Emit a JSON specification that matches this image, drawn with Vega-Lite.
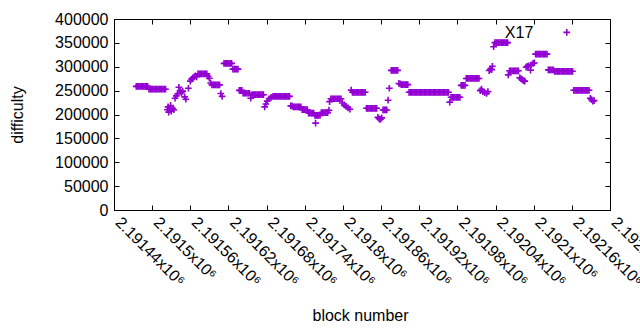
{
"$schema": "https://vega.github.io/schema/vega-lite/v6.json",
"width": 496, "height": 191,
"autosize": {"type": "none"},
"padding": {"left": 114, "top": 19, "right": 30, "bottom": 120},
"config": {
  "font": "Liberation Sans",
  "view": {"stroke": "black", "strokeWidth": 1},
  "axis": {"domain": false, "grid": false, "tickColor": "black", "tickSize": -5, "tickWidth": 1,
    "labelFont": "Liberation Sans", "labelFontSize": 16, "labelColor": "black",
    "titleFont": "Liberation Sans", "titleFontSize": 16, "titleFontWeight": "normal", "titleColor": "black"}
},
"data": {"values": [
{"block":2191475,"difficulty":259000},{"block":2191477,"difficulty":259000},{"block":2191479,"difficulty":259000},{"block":2191481,"difficulty":259000},{"block":2191483,"difficulty":259000},{"block":2191485,"difficulty":259000},{"block":2191487,"difficulty":259000},{"block":2191489,"difficulty":259000},{"block":2191491,"difficulty":259000},{"block":2191493,"difficulty":259000},
{"block":2191495,"difficulty":253000},{"block":2191497,"difficulty":253000},{"block":2191499,"difficulty":253000},{"block":2191501,"difficulty":253000},{"block":2191503,"difficulty":253000},{"block":2191505,"difficulty":253000},{"block":2191507,"difficulty":253000},{"block":2191509,"difficulty":253000},{"block":2191511,"difficulty":253000},{"block":2191513,"difficulty":253000},{"block":2191515,"difficulty":253000},{"block":2191517,"difficulty":253000},{"block":2191519,"difficulty":253000},{"block":2191521,"difficulty":253000},
{"block":2191524,"difficulty":210000},{"block":2191525,"difficulty":216000},{"block":2191526,"difficulty":205000},{"block":2191528,"difficulty":212000},{"block":2191529,"difficulty":219000},{"block":2191530,"difficulty":207000},{"block":2191532,"difficulty":213000},{"block":2191534,"difficulty":210000},
{"block":2191536,"difficulty":234000},{"block":2191538,"difficulty":239000},{"block":2191540,"difficulty":243000},{"block":2191542,"difficulty":257000},
{"block":2191544,"difficulty":250000},{"block":2191546,"difficulty":246000},{"block":2191548,"difficulty":249000},{"block":2191551,"difficulty":237000},{"block":2191553,"difficulty":232000},{"block":2191557,"difficulty":255000},
{"block":2191560,"difficulty":270000},{"block":2191562,"difficulty":274000},{"block":2191564,"difficulty":277000},{"block":2191566,"difficulty":279000},{"block":2191568,"difficulty":281000},{"block":2191570,"difficulty":279000},
{"block":2191572,"difficulty":285000},{"block":2191574,"difficulty":285000},{"block":2191576,"difficulty":285000},{"block":2191578,"difficulty":285000},{"block":2191580,"difficulty":285000},{"block":2191582,"difficulty":285000},{"block":2191584,"difficulty":285000},{"block":2191586,"difficulty":285000},{"block":2191588,"difficulty":280000},{"block":2191590,"difficulty":276000},
{"block":2191592,"difficulty":266000},
{"block":2191594,"difficulty":262000},{"block":2191596,"difficulty":262000},{"block":2191598,"difficulty":262000},{"block":2191600,"difficulty":262000},{"block":2191602,"difficulty":262000},{"block":2191604,"difficulty":262000},{"block":2191606,"difficulty":262000},
{"block":2191608,"difficulty":244000},{"block":2191610,"difficulty":238000},
{"block":2191613,"difficulty":307000},{"block":2191615,"difficulty":307000},{"block":2191617,"difficulty":307000},{"block":2191619,"difficulty":307000},{"block":2191621,"difficulty":307000},{"block":2191623,"difficulty":307000},{"block":2191625,"difficulty":307000},
{"block":2191627,"difficulty":295000},{"block":2191629,"difficulty":295000},{"block":2191631,"difficulty":295000},{"block":2191633,"difficulty":295000},{"block":2191635,"difficulty":295000},
{"block":2191637,"difficulty":250500},{"block":2191639,"difficulty":250500},{"block":2191641,"difficulty":250500},
{"block":2191643,"difficulty":244500},{"block":2191645,"difficulty":244500},{"block":2191647,"difficulty":244500},{"block":2191649,"difficulty":244500},{"block":2191651,"difficulty":244500},{"block":2191653,"difficulty":244500},
{"block":2191655,"difficulty":234000},
{"block":2191657,"difficulty":241500},{"block":2191659,"difficulty":241500},{"block":2191661,"difficulty":241500},{"block":2191663,"difficulty":241500},{"block":2191665,"difficulty":241500},{"block":2191667,"difficulty":241500},{"block":2191669,"difficulty":241500},{"block":2191671,"difficulty":241500},{"block":2191673,"difficulty":241500},{"block":2191675,"difficulty":241500},
{"block":2191677,"difficulty":216000},{"block":2191679,"difficulty":222000},{"block":2191681,"difficulty":228000},{"block":2191684,"difficulty":233000},{"block":2191687,"difficulty":236000},
{"block":2191690,"difficulty":238000},{"block":2191692,"difficulty":238000},{"block":2191694,"difficulty":238000},{"block":2191696,"difficulty":238000},{"block":2191698,"difficulty":238000},{"block":2191700,"difficulty":238000},{"block":2191702,"difficulty":238000},{"block":2191704,"difficulty":238000},{"block":2191706,"difficulty":238000},{"block":2191708,"difficulty":238000},{"block":2191710,"difficulty":238000},{"block":2191712,"difficulty":238000},{"block":2191714,"difficulty":238000},{"block":2191716,"difficulty":238000},
{"block":2191718,"difficulty":218000},{"block":2191720,"difficulty":218000},{"block":2191722,"difficulty":216000},{"block":2191724,"difficulty":216000},{"block":2191726,"difficulty":216000},{"block":2191728,"difficulty":216000},{"block":2191730,"difficulty":216000},{"block":2191732,"difficulty":216000},{"block":2191734,"difficulty":216000},
{"block":2191736,"difficulty":210000},{"block":2191738,"difficulty":210000},{"block":2191740,"difficulty":210000},{"block":2191742,"difficulty":210000},{"block":2191744,"difficulty":210000},
{"block":2191746,"difficulty":203000},{"block":2191748,"difficulty":203000},{"block":2191750,"difficulty":203000},{"block":2191752,"difficulty":203000},{"block":2191754,"difficulty":203000},
{"block":2191756,"difficulty":198000},{"block":2191757,"difficulty":182000},{"block":2191758,"difficulty":198000},{"block":2191760,"difficulty":198000},{"block":2191762,"difficulty":198000},{"block":2191764,"difficulty":198000},
{"block":2191766,"difficulty":204000},{"block":2191768,"difficulty":204000},{"block":2191770,"difficulty":204000},{"block":2191772,"difficulty":204000},{"block":2191774,"difficulty":204000},{"block":2191776,"difficulty":204000},
{"block":2191778,"difficulty":209000},{"block":2191779,"difficulty":227000},
{"block":2191781,"difficulty":233000},{"block":2191783,"difficulty":233000},{"block":2191785,"difficulty":233000},{"block":2191787,"difficulty":233000},{"block":2191789,"difficulty":233000},{"block":2191791,"difficulty":233000},{"block":2191793,"difficulty":233000},{"block":2191795,"difficulty":233000},{"block":2191797,"difficulty":233000},
{"block":2191799,"difficulty":224000},{"block":2191802,"difficulty":220000},{"block":2191805,"difficulty":217000},{"block":2191808,"difficulty":214000},{"block":2191811,"difficulty":211000},{"block":2191813,"difficulty":251000},
{"block":2191815,"difficulty":246500},{"block":2191817,"difficulty":246500},{"block":2191819,"difficulty":246500},{"block":2191821,"difficulty":246500},{"block":2191823,"difficulty":246500},{"block":2191825,"difficulty":246500},{"block":2191827,"difficulty":246500},{"block":2191829,"difficulty":246500},{"block":2191831,"difficulty":246500},{"block":2191833,"difficulty":246500},{"block":2191835,"difficulty":246500},
{"block":2191837,"difficulty":213000},{"block":2191839,"difficulty":213000},{"block":2191841,"difficulty":213000},{"block":2191843,"difficulty":213000},{"block":2191845,"difficulty":213000},{"block":2191847,"difficulty":213000},{"block":2191849,"difficulty":213000},{"block":2191851,"difficulty":213000},{"block":2191853,"difficulty":213000},
{"block":2191855,"difficulty":194000},{"block":2191857,"difficulty":191000},{"block":2191859,"difficulty":190000},{"block":2191861,"difficulty":193000},
{"block":2191863,"difficulty":209500},{"block":2191865,"difficulty":209500},{"block":2191867,"difficulty":209500},{"block":2191869,"difficulty":209500},
{"block":2191871,"difficulty":230000},{"block":2191873,"difficulty":255000},
{"block":2191876,"difficulty":292500},{"block":2191878,"difficulty":292500},{"block":2191880,"difficulty":292500},{"block":2191882,"difficulty":292500},{"block":2191884,"difficulty":292500},{"block":2191886,"difficulty":292500},
{"block":2191888,"difficulty":265000},{"block":2191890,"difficulty":264000},{"block":2191892,"difficulty":262500},{"block":2191894,"difficulty":262500},{"block":2191896,"difficulty":262500},{"block":2191898,"difficulty":262500},{"block":2191900,"difficulty":262500},{"block":2191902,"difficulty":262500},
{"block":2191904,"difficulty":246500},{"block":2191906,"difficulty":246500},{"block":2191908,"difficulty":246500},{"block":2191910,"difficulty":246500},{"block":2191912,"difficulty":246500},{"block":2191914,"difficulty":246500},{"block":2191916,"difficulty":246500},{"block":2191918,"difficulty":246500},{"block":2191920,"difficulty":246500},{"block":2191922,"difficulty":246500},{"block":2191924,"difficulty":246500},{"block":2191926,"difficulty":246500},{"block":2191928,"difficulty":246500},{"block":2191930,"difficulty":246500},{"block":2191932,"difficulty":246500},{"block":2191934,"difficulty":246500},{"block":2191936,"difficulty":246500},{"block":2191938,"difficulty":246500},{"block":2191940,"difficulty":246500},{"block":2191942,"difficulty":246500},{"block":2191944,"difficulty":246500},{"block":2191946,"difficulty":246500},{"block":2191948,"difficulty":246500},{"block":2191950,"difficulty":246500},{"block":2191952,"difficulty":246500},{"block":2191954,"difficulty":246500},{"block":2191956,"difficulty":246500},{"block":2191958,"difficulty":246500},{"block":2191960,"difficulty":246500},{"block":2191962,"difficulty":246500},{"block":2191964,"difficulty":246500},{"block":2191966,"difficulty":246500},
{"block":2191968,"difficulty":226000},
{"block":2191970,"difficulty":236000},{"block":2191972,"difficulty":236000},{"block":2191974,"difficulty":236000},{"block":2191976,"difficulty":236000},{"block":2191978,"difficulty":236000},{"block":2191980,"difficulty":236000},{"block":2191982,"difficulty":236000},{"block":2191984,"difficulty":236000},
{"block":2191986,"difficulty":261000},{"block":2191988,"difficulty":261000},{"block":2191990,"difficulty":261000},{"block":2191992,"difficulty":261000},
{"block":2191994,"difficulty":275500},{"block":2191996,"difficulty":275500},{"block":2191998,"difficulty":275500},{"block":2192000,"difficulty":275500},{"block":2192002,"difficulty":275500},{"block":2192004,"difficulty":275500},{"block":2192006,"difficulty":275500},{"block":2192008,"difficulty":275500},{"block":2192010,"difficulty":275500},{"block":2192012,"difficulty":275500},{"block":2192014,"difficulty":275500},
{"block":2192016,"difficulty":250000},{"block":2192018,"difficulty":253000},{"block":2192020,"difficulty":248000},{"block":2192023,"difficulty":246000},{"block":2192026,"difficulty":244000},{"block":2192028,"difficulty":248000},
{"block":2192030,"difficulty":292000},{"block":2192032,"difficulty":295000},{"block":2192034,"difficulty":294000},{"block":2192035,"difficulty":301000},
{"block":2192037,"difficulty":342000},
{"block":2192039,"difficulty":350500},{"block":2192041,"difficulty":350500},{"block":2192043,"difficulty":350500},{"block":2192045,"difficulty":350500},{"block":2192047,"difficulty":350500},{"block":2192049,"difficulty":350500},{"block":2192051,"difficulty":350500},{"block":2192053,"difficulty":350500},{"block":2192055,"difficulty":350500},{"block":2192057,"difficulty":350500},{"block":2192059,"difficulty":350500},
{"block":2192060,"difficulty":283000},
{"block":2192062,"difficulty":291500},{"block":2192064,"difficulty":291500},{"block":2192066,"difficulty":291500},{"block":2192068,"difficulty":291500},{"block":2192070,"difficulty":291500},{"block":2192072,"difficulty":291500},{"block":2192074,"difficulty":291500},{"block":2192076,"difficulty":291500},
{"block":2192078,"difficulty":277000},{"block":2192080,"difficulty":275000},{"block":2192082,"difficulty":273000},{"block":2192084,"difficulty":271000},{"block":2192086,"difficulty":270000},
{"block":2192088,"difficulty":299000},{"block":2192090,"difficulty":301000},{"block":2192092,"difficulty":302000},{"block":2192095,"difficulty":293000},{"block":2192096,"difficulty":304000},{"block":2192099,"difficulty":307000},{"block":2192101,"difficulty":308000},
{"block":2192103,"difficulty":326500},{"block":2192105,"difficulty":326500},{"block":2192107,"difficulty":326500},{"block":2192109,"difficulty":326500},{"block":2192111,"difficulty":326500},{"block":2192113,"difficulty":326500},{"block":2192115,"difficulty":326500},{"block":2192117,"difficulty":326500},{"block":2192119,"difficulty":326500},{"block":2192121,"difficulty":326500},
{"block":2192123,"difficulty":293500},{"block":2192125,"difficulty":293500},{"block":2192127,"difficulty":293500},{"block":2192129,"difficulty":293500},{"block":2192131,"difficulty":293500},
{"block":2192133,"difficulty":290500},{"block":2192135,"difficulty":290500},{"block":2192137,"difficulty":290500},{"block":2192139,"difficulty":290500},{"block":2192141,"difficulty":290500},{"block":2192143,"difficulty":290500},{"block":2192145,"difficulty":290500},{"block":2192147,"difficulty":290500},{"block":2192149,"difficulty":290500},{"block":2192151,"difficulty":290500},{"block":2192152,"difficulty":372000},{"block":2192153,"difficulty":290500},{"block":2192155,"difficulty":290500},{"block":2192157,"difficulty":290500},{"block":2192159,"difficulty":290500},{"block":2192161,"difficulty":290500},
{"block":2192163,"difficulty":250700},{"block":2192165,"difficulty":250700},{"block":2192167,"difficulty":250700},{"block":2192169,"difficulty":250700},{"block":2192171,"difficulty":250700},{"block":2192173,"difficulty":250700},{"block":2192175,"difficulty":250700},{"block":2192177,"difficulty":250700},{"block":2192179,"difficulty":250700},{"block":2192181,"difficulty":250700},{"block":2192183,"difficulty":250700},{"block":2192185,"difficulty":250700},{"block":2192187,"difficulty":250700},
{"block":2192189,"difficulty":234000},{"block":2192191,"difficulty":231000},{"block":2192193,"difficulty":228000},{"block":2192195,"difficulty":229000}
]},
"layer": [
  {
    "mark": {"type": "point", "shape": "M-1,0H1M0,-1V1", "filled": false, "size": 45, "strokeWidth": 1.6, "color": "#9400d3", "opacity": 1},
    "encoding": {
      "x": {"field": "block", "type": "quantitative",
        "scale": {"domain": [2191440, 2192220], "nice": false, "zero": false},
        "axis": {"orient": "bottom", "values": [2191440,2191500,2191560,2191620,2191680,2191740,2191800,2191860,2191920,2191980,2192040,2192100,2192160,2192220],
          "labelExpr": "format(datum.value/1e6, '.6~g') + 'x10⁶'",
          "labelAngle": 45, "labelAlign": "left", "labelBaseline": "alphabetic", "labelPadding": 18,
          "labelOverlap": false, "labelFlush": false, "labelBound": false,
          "title": "block number", "titleX": 246, "titleY": 110, "titleBaseline": "alphabetic"}},
      "y": {"field": "difficulty", "type": "quantitative",
        "scale": {"domain": [0, 400000], "nice": false},
        "axis": {"orient": "left", "values": [0,50000,100000,150000,200000,250000,300000,350000,400000],
          "format": "d", "labelPadding": 11,
          "title": "difficulty", "titleX": -92, "titleBaseline": "alphabetic"}}
    }
  },
  {
    "mark": {"type": "point", "opacity": 0},
    "encoding": {
      "x": {"field": "block", "type": "quantitative",
        "scale": {"domain": [2191440, 2192220], "nice": false, "zero": false},
        "axis": {"orient": "top", "values": [2191440,2191500,2191560,2191620,2191680,2191740,2191800,2191860,2191920,2191980,2192040,2192100,2192160,2192220], "labels": false, "title": null}},
      "y": {"field": "difficulty", "type": "quantitative",
        "scale": {"domain": [0, 400000], "nice": false},
        "axis": {"orient": "right", "values": [0,50000,100000,150000,200000,250000,300000,350000,400000], "labels": false, "title": null}}
    }
  },
  {
    "data": {"values": [{}]},
    "mark": {"type": "text", "text": "X17", "font": "Liberation Sans", "fontSize": 16, "color": "black", "align": "center", "baseline": "middle"},
    "encoding": {
      "x": {"datum": 2192077, "type": "quantitative", "axis": null},
      "y": {"datum": 371700, "type": "quantitative", "axis": null}
    }
  }
],
"resolve": {"axis": {"x": "independent", "y": "independent"}}
}
